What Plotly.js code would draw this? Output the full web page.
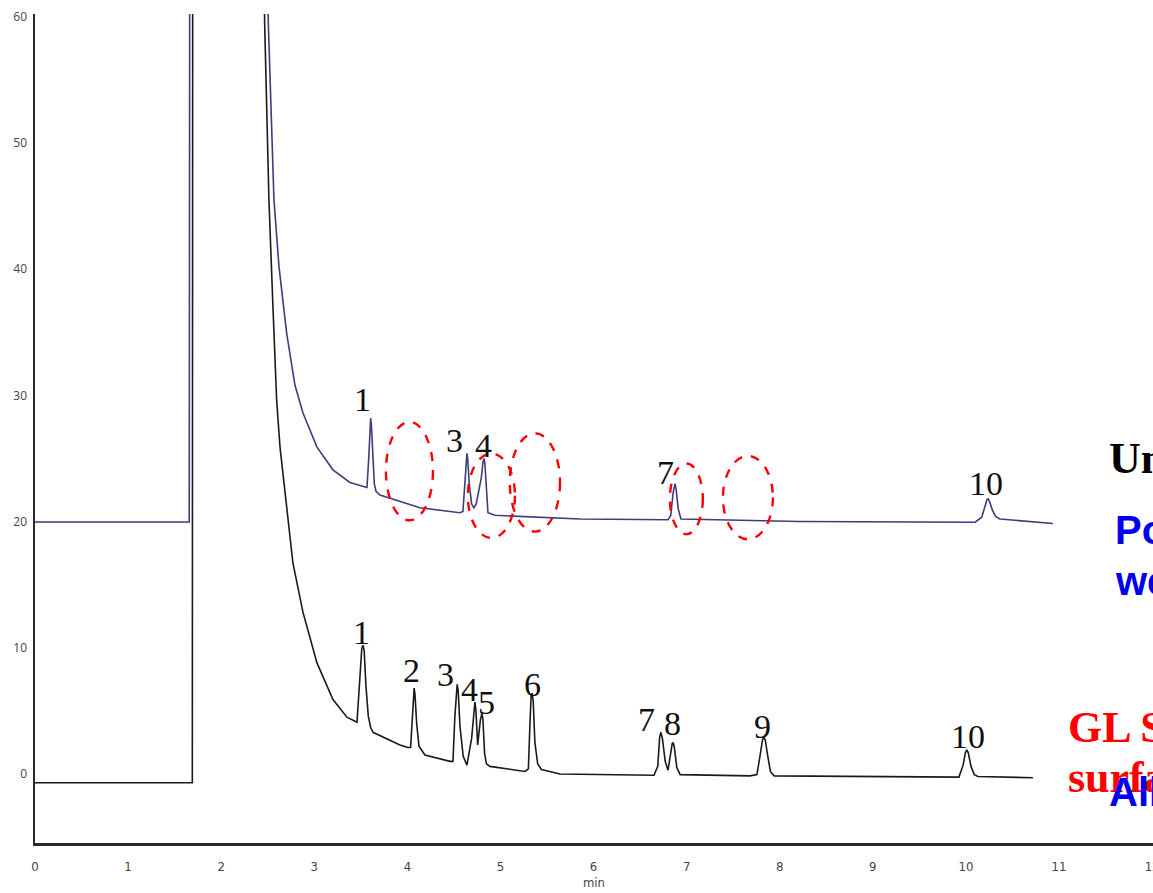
<!DOCTYPE html>
<html>
<head>
<meta charset="utf-8">
<script src="https://cdn.plot.ly/plotly-3.0.1.min.js"></script>
<style>html,body{margin:0;padding:0;background:#fff;overflow:hidden}#chart{width:1153px;height:893px}</style>
</head>
<body>
<div id="chart"></div>
<script>
// Upper trace (untreated liner), retention time (min) and signal
const upperTime = [0, 1.657, 1.662, 2.50, 2.506, 2.532, 2.567, 2.621, 2.704, 2.793, 2.879, 3.029, 3.201, 3.383, 3.566,
  3.585, 3.598, 3.606, 3.614, 3.628, 3.645, 3.663, 3.706, 4.135, 4.565,
  4.597, 4.618, 4.632, 4.640, 4.648, 4.665, 4.690, 4.715, 4.740, 4.795, 4.812, 4.823, 4.833, 4.850, 4.866, 4.941,
  5.854, 6.800, 6.830, 6.855, 6.868, 6.876, 6.888, 6.910, 6.939, 8.217,
  10.10, 10.17, 10.205, 10.226, 10.240, 10.258, 10.285, 10.32, 10.365, 10.934];
const upperSignal = [19.97, 19.97, 64, 64, 59.6, 53.4, 45.5, 40.2, 34.9, 30.8, 28.6, 25.9, 24.1, 23.1, 22.7,
  25.0, 27.6, 28.2, 27.6, 25.0, 23.0, 22.4, 22.1, 21.1, 20.7,
  20.8, 23.5, 25.0, 25.4, 25.0, 23.0, 21.4, 21.1, 21.4, 23.5, 24.7, 25.0, 24.6, 22.0, 20.7, 20.5,
  20.2, 20.15, 20.5, 22.3, 22.95, 23.0, 22.5, 21.0, 20.2, 20.0,
  19.95, 20.35, 21.2, 21.75, 21.8, 21.5, 20.9, 20.4, 20.2, 19.85];

// Lower trace (GL Sciences surface treated liner)
const lowerTime = [0, 1.690, 1.694, 2.46, 2.467, 2.513, 2.553, 2.596, 2.632, 2.707, 2.771, 2.879, 3.029, 3.201, 3.351, 3.459,
  3.490, 3.510, 3.523, 3.536, 3.555, 3.580, 3.605, 3.631, 3.920, 4.006,
  4.035, 4.055, 4.065, 4.073, 4.082, 4.100, 4.125, 4.189, 4.458,
  4.490, 4.510, 4.525, 4.535, 4.546, 4.565, 4.600, 4.640, 4.690, 4.715, 4.726, 4.737, 4.755, 4.785, 4.801, 4.812, 4.830, 4.850, 4.887,
  5.263, 5.300, 5.318, 5.330, 5.340, 5.352, 5.370, 5.400, 5.440, 5.639,
  6.649, 6.690, 6.710, 6.724, 6.740, 6.770, 6.800, 6.825, 6.845, 6.855, 6.868, 6.895, 6.930,
  7.680, 7.755, 7.790, 7.815, 7.830, 7.845, 7.870, 7.900, 7.940,
  9.291, 9.925, 9.970, 9.995, 10.010, 10.025, 10.055, 10.090, 10.130, 10.720];
const lowerSignal = [-0.7, -0.7, 64, 64, 59.5, 45.5, 37.6, 29.6, 25.9, 20.7, 16.7, 12.8, 8.8, 5.9, 4.5, 4.1,
  7.5, 9.9, 10.2, 9.8, 7.0, 4.6, 3.7, 3.3, 2.3, 2.1,
  2.1, 5.2, 6.6, 6.8, 6.3, 4.0, 2.2, 1.5, 1.0,
  1.0, 4.5, 6.8, 7.1, 6.6, 3.8, 1.4, 0.7, 2.8, 5.4, 5.7, 5.0, 2.3, 4.3, 4.8, 4.3, 1.6, 0.8, 0.6,
  0.2, 0.4, 4.2, 6.2, 6.4, 5.8, 2.5, 0.8, 0.35, 0.0,
  -0.1, 0.6, 2.9, 3.3, 2.8, 1.0, 0.3, 1.5, 2.4, 2.5, 2.1, 0.5, -0.05,
  -0.15, -0.05, 1.5, 2.7, 2.9, 2.7, 1.5, 0.2, -0.15,
  -0.25, -0.25, 0.7, 1.7, 1.9, 1.7, 0.6, -0.05, -0.2, -0.3];

// Peak number labels
const upperLabels = ["1", "3", "4", "7", "10"];
const upperLabelX = [3.52, 4.51, 4.82, 6.77, 10.22];
const upperLabelY = [29.7, 26.4, 26.0, 23.9, 23.0];
const lowerLabels = ["1", "2", "3", "4", "5", "6", "7", "8", "9", "10"];
const lowerLabelX = [3.51, 4.04, 4.41, 4.67, 4.85, 5.34, 6.57, 6.85, 7.82, 10.02];
const lowerLabelY = [11.2, 8.2, 7.9, 6.7, 5.7, 7.1, 4.3, 4.0, 3.8, 3.0];

// Dashed ellipses marking missing peaks (x0, x1, y0, y1)
const ellipseX0 = [3.770, 4.650, 5.100, 6.820, 7.390];
const ellipseX1 = [4.275, 5.156, 5.640, 7.174, 7.927];
const ellipseY0 = [20.1, 18.7, 19.2, 19.0, 18.6];
const ellipseY1 = [27.9, 25.4, 27.0, 24.6, 25.2];

const xTicks = [0, 1, 2, 3, 4, 5, 6, 7, 8, 9, 10, 11, 12];
const yTicks = [0, 10, 20, 30, 40, 50, 60];

const traces = [
  {x: upperTime, y: upperSignal, type: 'scatter', mode: 'lines', line: {color: '#3d3d7c', width: 1.6}, hoverinfo: 'skip'},
  {x: lowerTime, y: lowerSignal, type: 'scatter', mode: 'lines', line: {color: '#1a1a1a', width: 1.6}, hoverinfo: 'skip'}
];

const annotations = [];
const numFont = {family: 'Liberation Serif, Times New Roman, serif', size: 34, color: '#111'};
upperLabels.forEach((t, i) => annotations.push({x: upperLabelX[i], y: upperLabelY[i], xref: 'x', yref: 'y', text: t, showarrow: false, font: numFont}));
lowerLabels.forEach((t, i) => annotations.push({x: lowerLabelX[i], y: lowerLabelY[i], xref: 'x', yref: 'y', text: t, showarrow: false, font: numFont}));

const serifBold = 'Liberation Serif, Times New Roman, serif';
const sansBold = 'Liberation Sans, Arial, sans-serif';
annotations.push({x: 11.515, y: 25.0, xref: 'x', yref: 'y', xanchor: 'left', text: '<b>Untreated liner</b>', showarrow: false, font: {family: serifBold, size: 44, color: '#000'}});
annotations.push({x: 11.575, y: 19.3, xref: 'x', yref: 'y', xanchor: 'left', text: '<b>Poor peak shape,</b>', showarrow: false, font: {family: sansBold, size: 40, color: '#0000f0'}});
annotations.push({x: 11.575, y: 15.3, xref: 'x', yref: 'y', xanchor: 'left', text: '<b>weak response</b>', showarrow: false, font: {family: sansBold, size: 40, color: '#0000f0'}});
annotations.push({x: 11.07, y: 3.7, xref: 'x', yref: 'y', xanchor: 'left', text: '<b>GL Sciences</b>', showarrow: false, font: {family: serifBold, size: 44, color: '#ff0000'}});
annotations.push({x: 11.07, y: -0.3, xref: 'x', yref: 'y', xanchor: 'left', text: '<b>surface treated</b>', showarrow: false, font: {family: serifBold, size: 44, color: '#ff0000'}});
annotations.push({x: 11.52, y: -1.4, xref: 'x', yref: 'y', xanchor: 'left', text: '<b>All peaks detected</b>', showarrow: false, font: {family: sansBold, size: 40, color: '#0000f0'}});

const shapes = ellipseX0.map((x0, i) => ({
  type: 'circle', xref: 'x', yref: 'y', x0: x0, x1: ellipseX1[i], y0: ellipseY0[i], y1: ellipseY1[i],
  line: {color: '#ff0000', width: 2.4, dash: 'dash'}
}));

const layout = {
  width: 1153, height: 893,
  margin: {l: 35, r: 0, t: 14, b: 50, pad: 0},
  paper_bgcolor: '#fff', plot_bgcolor: '#fff',
  showlegend: false,
  xaxis: {
    range: [0, 12.01], tickvals: xTicks, ticktext: xTicks.map(String),
    showgrid: false, zeroline: false, showline: true, linecolor: '#2a2a2a', linewidth: 3,
    ticks: '', ticklabeloverflow: 'allow', ticklabelstandoff: 9,
    tickfont: {family: 'DejaVu Sans Condensed, DejaVu Sans, sans-serif', size: 13, color: '#444'},
    title: {text: 'min', font: {family: 'DejaVu Sans Condensed, DejaVu Sans, sans-serif', size: 13, color: '#444'}, standoff: 6}
  },
  yaxis: {
    range: [-5.47, 60.22], tickvals: yTicks, ticktext: yTicks.map(String),
    showgrid: false, zeroline: false, showline: true, linecolor: '#2a2a2a', linewidth: 2.5,
    ticks: '', ticklabelstandoff: 3,
    tickfont: {family: 'Open Sans, sans-serif', size: 12, color: '#444'}
  },
  annotations: annotations,
  shapes: shapes
};

Plotly.newPlot('chart', traces, layout, {staticPlot: true, displayModeBar: false});
</script>
</body>
</html>
